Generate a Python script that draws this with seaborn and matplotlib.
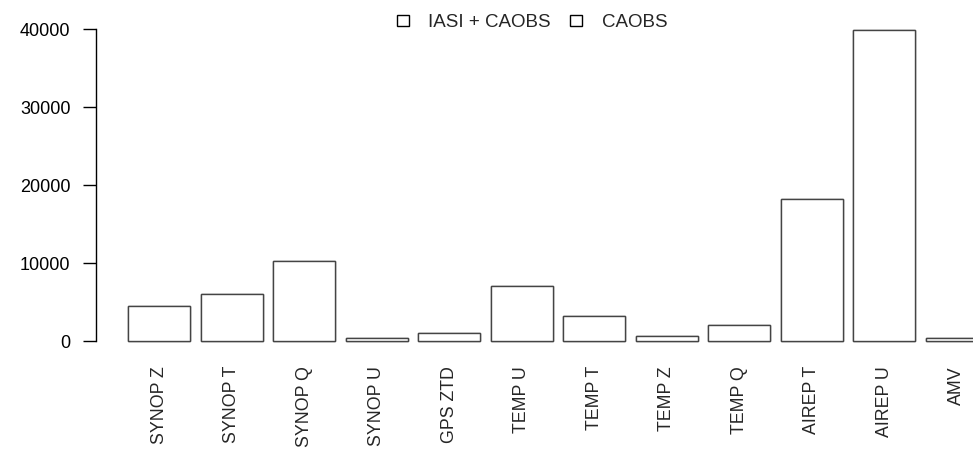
import matplotlib
matplotlib.use("Agg")
import matplotlib.pyplot as plt
import seaborn as sns
import pandas as pd
from matplotlib.patches import Patch

categories = ["SYNOP Z", "SYNOP T", "SYNOP Q", "SYNOP U", "GPS ZTD", "TEMP U",
              "TEMP T", "TEMP Z", "TEMP Q", "AIREP T", "AIREP U", "AMV"]
iasi_caobs = [4480, 5990, 10260, 350, 990, 7090, 3240, 640, 2050, 18200, 39870, 350]
caobs = [4480, 5990, 10260, 350, 990, 7090, 3240, 640, 2050, 18200, 39870, 350]
series_names = ["IASI + CAOBS", "CAOBS"]
yticks = [0, 10000, 20000, 30000, 40000]

df = pd.concat([
    pd.DataFrame({"cat": categories, "val": iasi_caobs, "series": series_names[0]}),
    pd.DataFrame({"cat": categories, "val": caobs, "series": series_names[1]}),
])

sns.set_style("white")
plt.rcParams["font.family"] = ["Liberation Sans", "DejaVu Sans"]

W, H = 973, 455
fig = plt.figure(figsize=(W / 100, H / 100), dpi=100)
left_px, right_px, top_px, bot_px = 95.5, 973, 20, 352
ax = fig.add_axes([left_px / W, 1 - bot_px / H, (right_px - left_px) / W, (bot_px - top_px) / H])

sns.barplot(data=df, x="cat", y="val", hue="series", dodge=False, ax=ax,
            palette=["white", "white"], edgecolor="#444444", linewidth=1.0,
            width=0.855, legend=False, errorbar=None, saturation=1)

# scales matching the reference layout
px_per_unit = 72.5
c0 = 159.3
ax.set_xlim(-(c0 - left_px) / px_per_unit, (right_px - c0) / px_per_unit)
y0_px, y40_px = 341, 29
u_per_px = 40000 / (y0_px - y40_px)
ax.set_ylim(-(bot_px - y0_px) * u_per_px, 40000 + (y40_px - top_px) * u_per_px)

for s in ["top", "right", "bottom"]:
    ax.spines[s].set_visible(False)
ax.spines["left"].set_bounds(0, 40000)
ax.spines["left"].set_color("black")
ax.spines["left"].set_linewidth(1.0)

ax.set_yticks(yticks)
ax.set_yticklabels([str(v) for v in yticks])
ax.tick_params(axis="y", left=True, length=9.5, width=1.0, pad=8.5, labelsize=13, colors="black")
ax.tick_params(axis="x", bottom=False, length=0, pad=10, labelsize=12.8)
ax.set_xticks(range(len(categories)))
ax.set_xticklabels(categories, rotation=90, va="top", ha="center")
ax.set_xlabel("")
ax.set_ylabel("")

handles = [Patch(facecolor="white", edgecolor="black", linewidth=1.0, label=n) for n in series_names]
fig.legend(handles=handles, loc="upper center", bbox_to_anchor=(532 / W, 1 - 1 / H), ncol=2,
           frameon=False, fontsize=13.5, handlelength=0.65, handleheight=0.55,
           handletextpad=1.05, columnspacing=1.0, borderpad=0.2)

fig.savefig("out.png", dpi=100, facecolor="white")
